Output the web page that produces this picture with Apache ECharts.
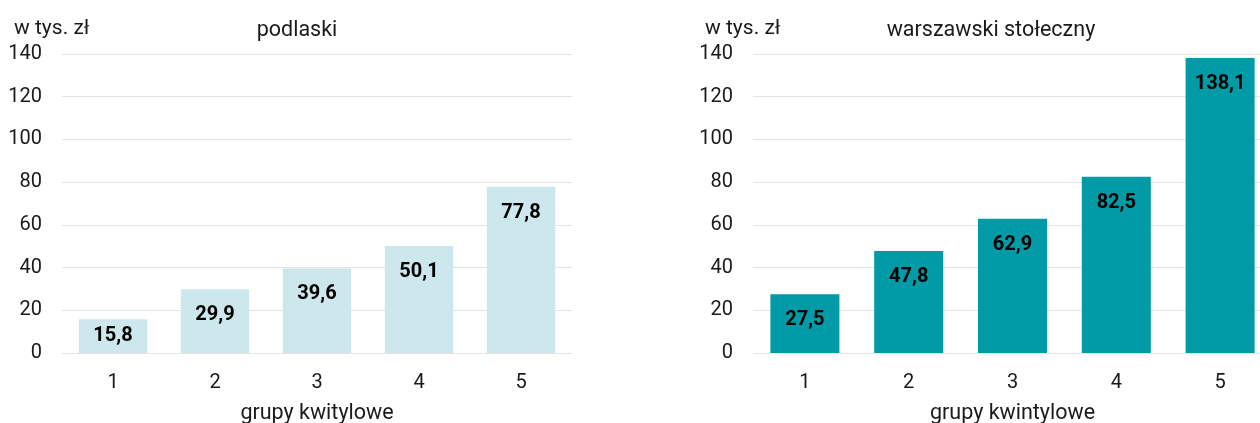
<!DOCTYPE html>
<html>
<head>
<meta charset="utf-8">
<script src="https://cdn.jsdelivr.net/npm/echarts@6/dist/echarts.min.js"></script>
<style>
    html, body { margin: 0; padding: 0; background: #fff; }
    #chart { width: 1260px; height: 423px; }
</style>
</head>
<body>
<div id="chart"></div>
<script>
// dane
const categories = ['1', '2', '3', '4', '5'];
const podlaski = [15.8, 29.9, 39.6, 50.1, 77.8];
const warszawski = [27.5, 47.8, 62.9, 82.5, 138.1];
const yTicks = [0, 20, 40, 60, 80, 100, 120, 140];

const FONT = 'Roboto';
const TXT = '#1a1a1a';
const FS = 20;

// etykiety wartosci, dla niskich slupkow na srodku
function barData (values) {
    return values.map(v => {
        let item = { value: v };
        if (v < 20) {
            item.label = { position: 'inside' };
        }
        return item;
    });
}

function fmt (v) {
    return String(v).replace('.', ',');
}

let myChart = echarts.init(document.getElementById('chart'));

let yAxisBase = {
    type: 'value',
    min: yTicks[0],
    max: yTicks[yTicks.length - 1],
    interval: 20,
    axisLine: { show: false },
    axisTick: { show: false },
    axisLabel: { color: TXT, fontSize: FS, fontFamily: FONT, margin: 20 },
    splitLine: { lineStyle: { color: '#e4e4e4', width: 1 } }
};

let xAxisBase = {
    type: 'category',
    data: categories,
    axisLine: { show: false },
    axisTick: { show: false },
    axisLabel: { color: TXT, fontSize: FS, fontFamily: FONT, margin: 20 },
    nameLocation: 'middle',
    nameGap: 50,
    nameTextStyle: { color: TXT, fontSize: 21.5, fontFamily: FONT }
};

let labelBase = {
    show: true,
    position: 'insideTop',
    distance: 16,
    color: '#000',
    fontSize: FS,
    fontWeight: 'bold',
    fontFamily: FONT,
    formatter: p => fmt(p.value)
};

let titleStyle = { color: TXT, fontSize: 21.5, fontWeight: 'normal', fontFamily: FONT };
let unitStyle = { color: TXT, fontSize: 21, fontWeight: 'normal', fontFamily: FONT };

let option = {
    backgroundColor: '#ffffff',
    animation: false,
    title: [
        { text: 'podlaski', left: 292, top: 15, textAlign: 'center', textStyle: titleStyle },
        { text: 'warszawski stołeczny', left: 986, top: 15, textAlign: 'center', textStyle: titleStyle },
        { text: 'w tys. zł', left: 9, top: 13, textStyle: unitStyle },
        { text: 'w tys. zł', left: 700, top: 13, textStyle: unitStyle }
    ],
    grid: [
        { left: 62, width: 510, top: 54, height: 299, outerBoundsMode: 'none' },
        { left: 753, width: 519, top: 54, height: 299, outerBoundsMode: 'none' }
    ],
    xAxis: [
        Object.assign({}, xAxisBase, { gridIndex: 0, name: 'grupy kwitylowe' }),
        Object.assign({}, xAxisBase, { gridIndex: 1, name: 'grupy kwintylowe' })
    ],
    yAxis: [
        Object.assign({}, yAxisBase, { gridIndex: 0 }),
        Object.assign({}, yAxisBase, { gridIndex: 1 })
    ],
    series: [
        {
            type: 'bar',
            xAxisIndex: 0,
            yAxisIndex: 0,
            barCategoryGap: '33%',
            itemStyle: { color: '#cce8ec' },
            label: labelBase,
            data: barData(podlaski)
        },
        {
            type: 'bar',
            xAxisIndex: 1,
            yAxisIndex: 1,
            barCategoryGap: '33.5%',
            itemStyle: { color: '#009ba6' },
            label: labelBase,
            data: barData(warszawski)
        }
    ]
};

myChart.setOption(option);
</script>
</body>
</html>
